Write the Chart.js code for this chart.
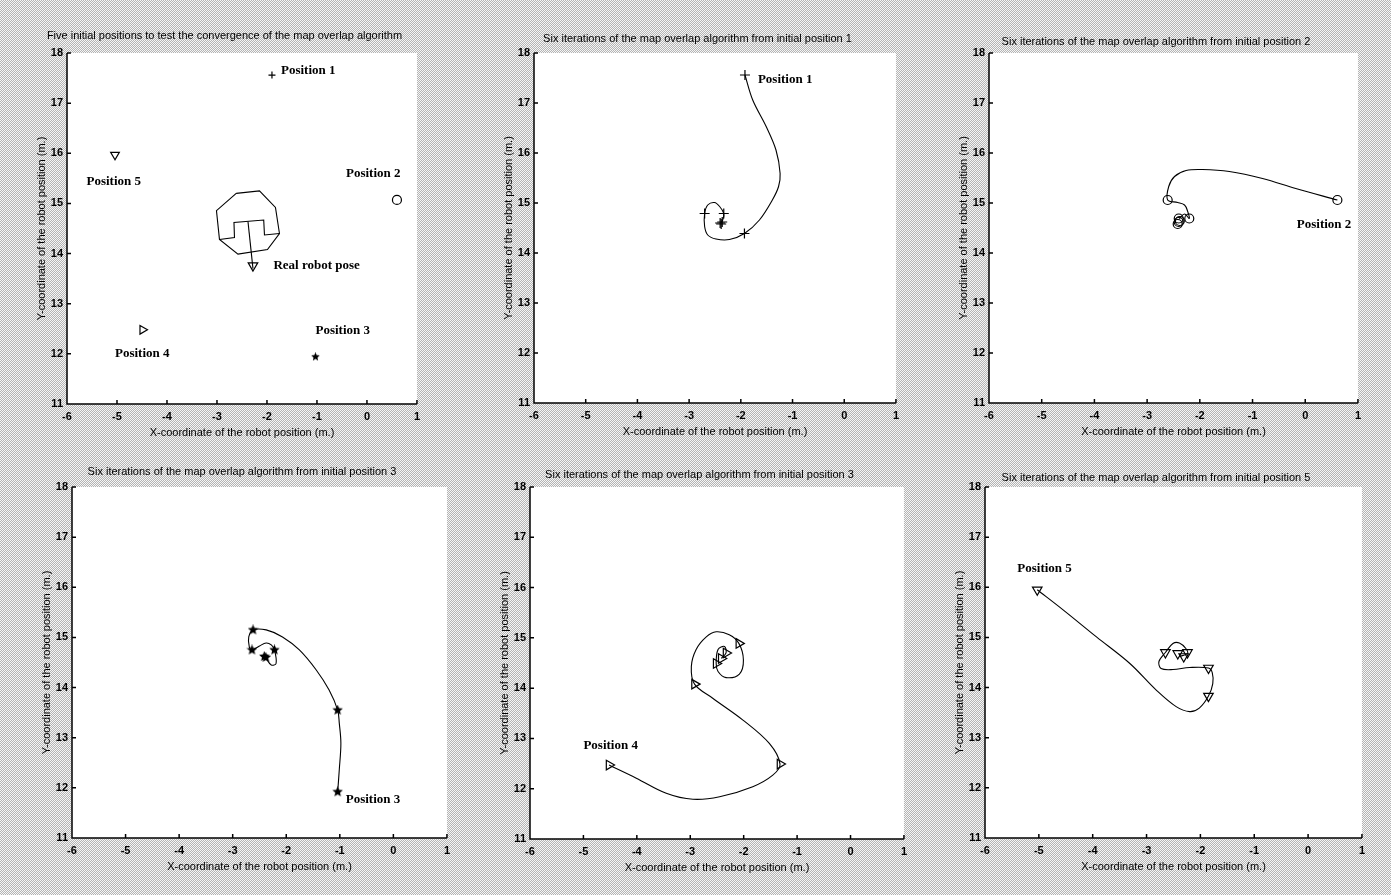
<!DOCTYPE html>
<html lang="en">
<head>
<meta charset="UTF-8">
<title>Map overlap convergence</title>
<script src="https://cdn.jsdelivr.net/npm/chart.js@4"></script>
<style>
  html, body { margin: 0; padding: 0; }
  body {
    width: 1391px; height: 895px; position: relative; overflow: hidden;
    background: repeating-conic-gradient(#b4b4b4 0 25%, #f6f6f6 0 50%) 0 0 / 2px 2px;
  }
  canvas { position: absolute; }
</style>
</head>
<body>
<canvas id="c1"></canvas>
<canvas id="c2"></canvas>
<canvas id="c3"></canvas>
<canvas id="c4"></canvas>
<canvas id="c5"></canvas>
<canvas id="c6"></canvas>

<script>
// axis ranges (all six panels share them)
const xMin = -6, xMax = 1;
const yMin = 11, yMax = 18;

// panel 1: the five starting positions + the real pose
const startX = [-1.90, 0.60, -1.03, -4.49, -5.04];
const startY = [17.56, 15.07, 11.94, 12.48, 15.97];
const realPoseX = [-2.28];
const realPoseY = [13.76];
const robotOutlineX = [-2.615, -2.15, -1.83, -1.75, -1.99, -2.58, -2.95, -3.01, -2.615];
const robotOutlineY = [15.20, 15.25, 14.92, 14.40, 14.08, 13.99, 14.28, 14.855, 15.20];
const robotSlotX = [-2.95, -2.65, -2.66, -2.065, -2.05, -1.75];
const robotSlotY = [14.28, 14.32, 14.62, 14.67, 14.37, 14.40];
const robotArrowX = [-2.38, -2.28];
const robotArrowY = [14.64, 13.70];

// panel 2: from position 1
const p1PathX = [-1.92, -1.77, -1.51, -1.32, -1.24, -1.27, -1.39, -1.64, -1.93, -2.22, -2.48, -2.64, -2.70, -2.70, -2.64, -2.51, -2.41, -2.33, -2.35, -2.38];
const p1PathY = [17.56, 17.06, 16.53, 16.06, 15.59, 15.33, 15.06, 14.66, 14.39, 14.27, 14.28, 14.36, 14.53, 14.79, 14.96, 15.01, 14.93, 14.79, 14.66, 14.61];
const p1IterX = [-1.92, -1.93, -2.70, -2.33, -2.40, -2.36, -2.38];
const p1IterY = [17.56, 14.39, 14.79, 14.79, 14.60, 14.62, 14.58];

// panel 3: from position 2
const p2PathX = [0.61, -0.18, -0.81, -1.44, -1.95, -2.26, -2.48, -2.59, -2.61, -2.42, -2.29, -2.23, -2.20, -2.29, -2.39];
const p2PathY = [15.06, 15.29, 15.49, 15.63, 15.67, 15.65, 15.53, 15.33, 15.06, 15.01, 14.96, 14.83, 14.69, 14.78, 14.69];
const p2IterX = [0.61, -2.61, -2.20, -2.40, -2.42, -2.38, -2.40];
const p2IterY = [15.06, 15.06, 14.69, 14.69, 14.58, 14.64, 14.62];

// panel 4: from position 3
const p3PathX = [-1.04, -1.01, -0.98, -1.01, -1.04, -1.20, -1.44, -1.755, -2.07, -2.375, -2.62, -2.70, -2.69, -2.64, -2.50, -2.375, -2.28, -2.22, -2.19, -2.28, -2.375, -2.41];
const p3PathY = [11.92, 12.36, 12.89, 13.29, 13.55, 13.95, 14.35, 14.75, 15.01, 15.15, 15.15, 15.01, 14.81, 14.75, 14.83, 14.89, 14.85, 14.75, 14.48, 14.45, 14.58, 14.62];
const p3IterX = [-1.04, -1.04, -2.62, -2.64, -2.22, -2.41, -2.38];
const p3IterY = [11.92, 13.55, 15.15, 14.75, 14.75, 14.62, 14.60];

// panel 5: from position 4
const p4PathX = [-4.52, -4.01, -3.45, -2.95, -2.45, -1.83, -1.455, -1.32, -1.52, -2.02, -2.58, -2.92, -2.98, -2.89, -2.70, -2.515, -2.27, -2.09, -2.005, -2.08, -2.33, -2.48, -2.515, -2.48, -2.36, -2.33, -2.42];
const p4PathY = [12.47, 12.21, 11.91, 11.79, 11.84, 12.04, 12.27, 12.49, 12.90, 13.37, 13.80, 14.08, 14.43, 14.77, 15.02, 15.12, 15.06, 14.89, 14.56, 14.28, 14.21, 14.33, 14.49, 14.77, 14.83, 14.70, 14.59];
const p4IterX = [-4.52, -1.32, -2.92, -2.09, -2.515, -2.33, -2.42];
const p4IterY = [12.47, 12.49, 14.08, 14.89, 14.49, 14.70, 14.59];

// panel 6: from position 5
const p5PathX = [-5.03, -4.55, -3.93, -3.31, -2.82, -2.45, -2.20, -2.02, -1.85, -1.77, -1.78, -1.85, -2.20, -2.51, -2.73, -2.77, -2.65, -2.51, -2.39, -2.27, -2.24, -2.39];
const p5PathY = [15.95, 15.55, 15.01, 14.48, 13.95, 13.62, 13.52, 13.59, 13.83, 14.08, 14.30, 14.39, 14.40, 14.36, 14.38, 14.52, 14.70, 14.88, 14.89, 14.78, 14.68, 14.62];
const p5IterX = [-5.03, -1.85, -1.85, -2.65, -2.24, -2.42, -2.31];
const p5IterY = [15.95, 13.83, 14.39, 14.70, 14.70, 14.68, 14.62];

const titles = [
    'Five initial positions to test the convergence of the map overlap algorithm',
    'Six iterations of the map overlap algorithm from initial position 1',
    'Six iterations of the map overlap algorithm from initial position 2',
    'Six iterations of the map overlap algorithm from initial position 3',
    'Six iterations of the map overlap algorithm from initial position 3',
    'Six iterations of the map overlap algorithm from initial position 5'
];
const xTitle = 'X-coordinate of the robot position (m.)';
const yTitle = 'Y-coordinate of the robot position (m.)';

// where each plot box sits on the page
const boxes = [
    { id: 'c1', L: 67, T: 53, R: 418, B: 404, gap: 17 },
    { id: 'c2', L: 534, T: 53, R: 897, B: 403, gap: 14 },
    { id: 'c3', L: 989, T: 53, R: 1359, B: 403, gap: 11 },
    { id: 'c4', L: 72, T: 487, R: 448, B: 838, gap: 15 },
    { id: 'c5', L: 530, T: 487, R: 905, B: 839, gap: 12 },
    { id: 'c6', L: 985, T: 487, R: 1363, B: 838, gap: 9 }
];

Chart.defaults.font.family = '"Liberation Sans", Arial, sans-serif';
Chart.defaults.font.size = 11;
Chart.defaults.color = '#000';

function makeStar(size) {
    const c = document.createElement('canvas');
    c.width = c.height = size;
    const g = c.getContext('2d');
    g.fillStyle = '#000';
    g.beginPath();
    for (let i = 0; i < 10; i++) {
        const r = i % 2 === 0 ? size / 2 : size / 4.4;
        const a = -Math.PI / 2 + i * Math.PI / 5;
        g.lineTo(size / 2 + r * Math.cos(a), size / 2 + r * Math.sin(a));
    }
    g.closePath();
    g.fill();
    return c;
}
const star = makeStar(11);
const starSmall = makeStar(9);

function pts(xs, ys) {
    return xs.map((x, i) => ({ x: x, y: ys[i] }));
}

function pathSet(xs, ys, tension) {
    return {
        data: pts(xs, ys),
        showLine: true,
        borderColor: '#000',
        borderWidth: 1.1,
        pointRadius: 0,
        tension: tension,
        fill: false
    };
}

function markSet(xs, ys, style, rot, r) {
    return {
        data: pts(xs, ys),
        showLine: false,
        pointStyle: style,
        pointRotation: rot,
        pointRadius: r,
        pointBorderColor: '#000',
        pointBackgroundColor: 'rgba(0,0,0,0)',
        pointBorderWidth: 1.2
    };
}

// white plot box, matlab style axes with inward ticks, text notes
const axesPlugin = {
    id: 'matlabAxes',
    beforeDraw(chart) {
        const a = chart.chartArea, ctx = chart.ctx;
        ctx.save();
        ctx.fillStyle = '#fff';
        ctx.fillRect(a.left, a.top, a.right - a.left, a.bottom - a.top);
        ctx.restore();
    },
    afterDraw(chart, args, opts) {
        const a = chart.chartArea, ctx = chart.ctx;
        const xs = chart.scales.x, ys = chart.scales.y;
        ctx.save();
        ctx.strokeStyle = '#000';
        ctx.lineWidth = 1.5;
        ctx.beginPath();
        ctx.moveTo(a.left, a.top);
        ctx.lineTo(a.left, a.bottom);
        ctx.lineTo(a.right, a.bottom);
        xs.ticks.forEach(t => {
            const p = xs.getPixelForValue(t.value);
            ctx.moveTo(p, a.bottom);
            ctx.lineTo(p, a.bottom - 4);
        });
        ys.ticks.forEach(t => {
            const p = ys.getPixelForValue(t.value);
            ctx.moveTo(a.left, p);
            ctx.lineTo(a.left + 4, p);
        });
        ctx.stroke();

        ctx.fillStyle = '#000';
        ctx.font = 'bold 13px "Liberation Serif", "Times New Roman", serif';
        ctx.textBaseline = 'middle';
        ctx.textAlign = 'left';
        (opts.notes || []).forEach(n => {
            ctx.fillText(n.text, xs.getPixelForValue(n.x), ys.getPixelForValue(n.y));
        });
        ctx.restore();
    }
};

function makePanel(k, datasets, notes) {
    const b = boxes[k];
    const W = 36, H = 40, padR = 8;
    const tb = b.gap + 9;
    const cv = document.getElementById(b.id);
    cv.width = b.R - b.L + W + padR;
    cv.height = b.B - b.T + tb + H;
    cv.style.left = (b.L - W) + 'px';
    cv.style.top = (b.T - tb) + 'px';

    new Chart(cv.getContext('2d'), {
        type: 'scatter',
        data: { datasets: datasets },
        options: {
            responsive: false,
            animation: false,
            devicePixelRatio: 1,
            layout: { padding: { left: 0, right: padR, top: 0, bottom: 0 } },
            plugins: {
                legend: { display: false },
                tooltip: { enabled: false },
                title: {
                    display: true,
                    text: titles[k],
                    font: { size: 11, weight: 'normal' },
                    color: '#000',
                    padding: { top: 2.8, bottom: b.gap - 7 }
                },
                matlabAxes: { notes: notes }
            },
            scales: {
                x: {
                    type: 'linear',
                    min: xMin,
                    max: xMax,
                    ticks: { stepSize: 1, padding: 6, color: '#000', font: { size: 11, weight: 'bold' } },
                    grid: { display: false, drawTicks: false },
                    border: { display: false },
                    title: { display: true, text: xTitle, color: '#000', font: { size: 11 }, padding: { top: 4, bottom: 4 } },
                    afterFit: s => { s.height = H; }
                },
                y: {
                    type: 'linear',
                    min: yMin,
                    max: yMax,
                    ticks: { stepSize: 1, padding: 4, color: '#000', font: { size: 11, weight: 'bold' } },
                    grid: { display: false, drawTicks: false },
                    border: { display: false },
                    title: { display: true, text: yTitle, color: '#000', font: { size: 11 }, padding: { top: 4, bottom: 4 } },
                    afterFit: s => { s.width = W; }
                }
            }
        },
        plugins: [axesPlugin]
    });
}

// panel 1
makePanel(0, [
    markSet(startX, startY, ['cross', 'circle', starSmall, 'triangle', 'triangle'], [0, 0, 0, 90, 180], [3.5, 4.5, 4.5, 5, 5]),
    markSet(realPoseX, realPoseY, 'triangle', 180, 5.5),
    pathSet(robotOutlineX, robotOutlineY, 0),
    pathSet(robotSlotX, robotSlotY, 0),
    pathSet(robotArrowX, robotArrowY, 0)
], [
    { text: 'Position 1', x: -1.72, y: 17.65 },
    { text: 'Position 5', x: -5.61, y: 15.43 },
    { text: 'Position 2', x: -0.42, y: 15.60 },
    { text: 'Real robot pose', x: -1.87, y: 13.76 },
    { text: 'Position 3', x: -1.03, y: 12.46 },
    { text: 'Position 4', x: -5.04, y: 12.01 }
]);

// panel 2
makePanel(1, [
    markSet(p1IterX, p1IterY, 'cross', 0, 5),
    pathSet(p1PathX, p1PathY, 0.35)
], [{ text: 'Position 1', x: -1.67, y: 17.46 }]);

// panel 3
makePanel(2, [
    markSet(p2IterX, p2IterY, 'circle', 0, 4.5),
    pathSet(p2PathX, p2PathY, 0.35)
], [{ text: 'Position 2', x: -0.16, y: 14.56 }]);

// panel 4
makePanel(3, [
    markSet(p3IterX, p3IterY, star, 0, 5),
    pathSet(p3PathX, p3PathY, 0.35)
], [{ text: 'Position 3', x: -0.89, y: 11.76 }]);

// panel 5
makePanel(4, [
    markSet(p4IterX, p4IterY, 'triangle', 90, 5.5),
    pathSet(p4PathX, p4PathY, 0.35)
], [{ text: 'Position 4', x: -5.00, y: 12.85 }]);

// panel 6
makePanel(5, [
    markSet(p5IterX, p5IterY, 'triangle', 180, 5.5),
    pathSet(p5PathX, p5PathY, 0.35)
], [{ text: 'Position 5', x: -5.40, y: 16.38 }]);
</script>
</body>
</html>
